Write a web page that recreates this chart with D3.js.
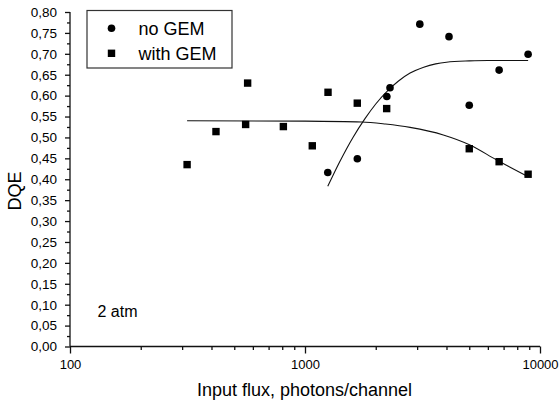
<!DOCTYPE html>
<html><head><meta charset="utf-8">
<script src="https://cdn.jsdelivr.net/npm/d3@7"></script>
<style>
body{margin:0;background:#fff}
svg{display:block}
text{font-family:"Liberation Sans",Arial,sans-serif;fill:#000}
</style>
</head><body>
<svg id="c" width="559" height="405"></svg>
<script>
// ---- data ----
const noGemFlux = [1250, 1670, 2230, 2300, 3080, 4100, 5000, 6700, 8900];
const noGemDQE  = [0.416, 0.449, 0.598, 0.619, 0.771, 0.741, 0.577, 0.661, 0.699];

const withGemFlux = [315, 418, 559, 570, 809, 1074, 1253, 1669, 2226, 5000, 6700, 8900];
const withGemDQE  = [0.435, 0.514, 0.531, 0.630, 0.526, 0.480, 0.608, 0.582, 0.569, 0.473, 0.442, 0.412];

const noGemFitFlux = [1250, 1400, 1600, 1800, 2000, 2250, 2500, 2800, 3200, 3600, 4000, 5000, 6000, 8900];
const noGemFitDQE  = [0.383, 0.440, 0.500, 0.545, 0.580, 0.612, 0.635, 0.654, 0.668, 0.676, 0.680, 0.683, 0.684, 0.684];

const withGemFitFlux = [315, 1000, 1742, 2200, 2800, 3877, 5036, 6542, 8913];
const withGemFitDQE  = [0.540, 0.539, 0.537, 0.532, 0.524, 0.506, 0.482, 0.446, 0.406];

const xMajorTicks = [100, 1000, 10000];
const xMinorTicks = [200, 300, 400, 500, 600, 700, 800, 900, 2000, 3000, 4000, 5000, 6000, 7000, 8000, 9000];
const yTickLabels = ["0,00","0,05","0,10","0,15","0,20","0,25","0,30","0,35","0,40","0,45","0,50","0,55","0,60","0,65","0,70","0,75","0,80"];
const yMinorTicks = [0.025,0.075,0.125,0.175,0.225,0.275,0.325,0.375,0.425,0.475,0.525,0.575,0.625,0.675,0.725,0.775];

const seriesNames = ["no GEM", "with GEM"];
const xTitle = "Input flux, photons/channel";
const yTitle = "DQE";
const note = "2 atm";

// ---- layout ----
const svg = d3.select("#c");
const x = d3.scaleLog().domain([100, 10000]).range([70, 540]);
const y = d3.scaleLinear().domain([0, 0.8]).range([346.5, 12]);
const yMajor = yTickLabels.map(s => +s.replace(",", "."));

// x axis
const gx = svg.append("g").attr("transform", `translate(0,${y(0)})`);
gx.call(d3.axisBottom(x).tickValues(xMajorTicks).tickSize(7).tickPadding(6).tickFormat(d3.format("d")));
gx.append("g").call(d3.axisBottom(x).tickValues(xMinorTicks).tickSize(3.5).tickFormat(""))
  .select(".domain").remove();
gx.selectAll("text").attr("font-size", 13).attr("font-family", '"Liberation Sans",Arial,sans-serif').attr("fill", "#000");
gx.selectAll("path,line").attr("stroke", "#111").attr("stroke-width", 1.3);
gx.select(".domain").attr("d", `M${x(100)},0H${x(10000)}`);

// y axis
const gy = svg.append("g").attr("transform", `translate(${x(100)},0)`);
gy.call(d3.axisLeft(y).tickValues(yMajor).tickSize(5).tickPadding(8).tickFormat((d, i) => yTickLabels[i]));
gy.append("g").call(d3.axisLeft(y).tickValues(yMinorTicks).tickSize(3).tickFormat(""))
  .select(".domain").remove();
gy.selectAll("text").attr("font-size", 13.5).attr("font-family", '"Liberation Sans",Arial,sans-serif').attr("fill", "#000");
gy.selectAll("path,line").attr("stroke", "#111").attr("stroke-width", 1.3);
gy.select(".domain").attr("d", `M0,${y(0.8)}V${y(0)}`);

// titles
svg.append("text").attr("x", 304.5).attr("y", 396).attr("text-anchor", "middle")
  .attr("font-size", 18).text(xTitle);
svg.append("text").attr("transform", "translate(20.5,191) rotate(-90)").attr("text-anchor", "middle")
  .attr("font-size", 18).text(yTitle);
svg.append("text").attr("x", 97.5).attr("y", 316.5).attr("font-size", 16).text(note);

// fit curves
const line = d3.line().x(d => x(d[0])).y(d => y(d[1])).curve(d3.curveMonotoneX);
svg.append("path").attr("d", line(noGemFitFlux.map((f, i) => [f, noGemFitDQE[i]])))
  .attr("fill", "none").attr("stroke", "#111").attr("stroke-width", 1.1);
svg.append("path").attr("d", line(withGemFitFlux.map((f, i) => [f, withGemFitDQE[i]])))
  .attr("fill", "none").attr("stroke", "#111").attr("stroke-width", 1.1);

// points
svg.append("g").selectAll("circle").data(noGemFlux.map((f, i) => [f, noGemDQE[i]])).join("circle")
  .attr("cx", d => x(d[0])).attr("cy", d => y(d[1])).attr("r", 3.8).attr("fill", "#000");
const s = 7.4;
svg.append("g").selectAll("rect").data(withGemFlux.map((f, i) => [f, withGemDQE[i]])).join("rect")
  .attr("x", d => x(d[0]) - s / 2).attr("y", d => y(d[1]) - s / 2).attr("width", s).attr("height", s).attr("fill", "#000");

// legend
const lg = svg.append("g");
lg.append("rect").attr("x", 87).attr("y", 10.5).attr("width", 145).attr("height", 57.5)
  .attr("fill", "#fff").attr("stroke", "#333").attr("stroke-width", 1.2);
lg.append("circle").attr("cx", 111.5).attr("cy", 28.3).attr("r", 3.8).attr("fill", "#000");
lg.append("rect").attr("x", 111.5 - s / 2).attr("y", 53.3 - s / 2).attr("width", s).attr("height", s).attr("fill", "#000");
lg.append("text").attr("x", 138.5).attr("y", 34.5).attr("font-size", 18).text(seriesNames[0]);
lg.append("text").attr("x", 138.5).attr("y", 59.5).attr("font-size", 18).text(seriesNames[1]);
</script>
</body></html>
